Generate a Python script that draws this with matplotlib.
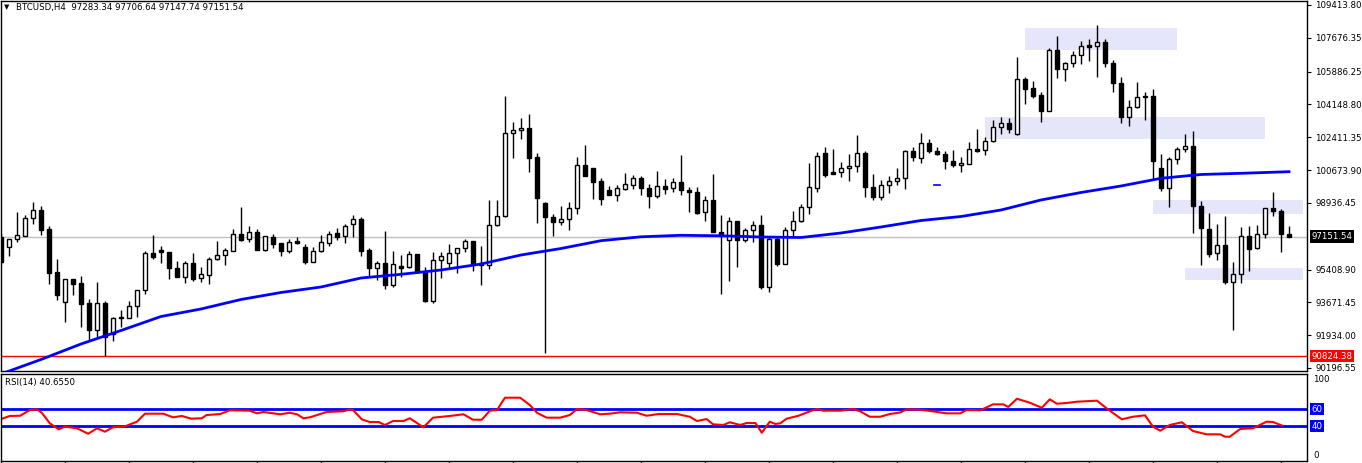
import numpy as np
import matplotlib
matplotlib.use("Agg")
import matplotlib.pyplot as plt
import matplotlib.transforms as mtransforms

# BTCUSD H4 candles, oldest first
opens = [97132, 96586, 97042, 97200, 98122, 98561, 97555, 95279, 93707, 94908,
         94696, 93638, 92224, 93638, 91997, 92850, 92828, 93463, 94310, 96285,
         96444, 96338, 95475, 95030, 95739, 94945, 95136, 95951, 96195, 96407,
         97275, 97010, 97381, 96459, 97116, 96814, 96407, 96920, 96602, 95808,
         96375, 96830, 97344, 97169, 97804, 98069, 96444, 95507, 95755, 94606,
         95596, 95559, 96232, 95279, 93760, 95898, 95771, 96269, 96534, 96904,
         95755, 95634, 97751, 98228, 102622, 102780, 102886, 101351, 98916, 98190,
         97910, 98069, 98651, 100928, 100769, 100081, 99604, 99371, 99657, 99869,
         100239, 99710, 99286, 99816, 99710, 100028, 99604, 99498, 98439, 99075,
         97381, 96957, 97963, 96957, 97486, 97751, 94469, 97042, 95718, 97486,
         97963, 98704, 99710, 101579, 100557, 100557, 100769, 100875, 101563, 99763,
         99265, 99869, 100081, 100239, 101669, 101298, 102092, 101669, 101510, 101139,
         100928, 100996, 101775, 101722, 102198, 102939, 103151, 102569, 105480, 105020,
         104649, 103818, 107016, 106042, 106327, 106751, 107280, 107227, 107439, 106327,
         105269, 103500, 103998, 104596, 104596, 100769, 99742, 101245, 101775, 101933,
         98757, 97539, 96269, 96692, 94765, 95157, 97169, 96565, 97275, 98651,
         98492, 97283.34]
highs = [97290, 97026, 98439, 98296, 98985, 98773, 97714, 95967, 94930, 94930,
         95051, 93865, 94749, 93728, 92912, 93267, 93760, 94310, 96391, 97254,
         96639, 96360, 95861, 95861, 96269, 95528, 96057, 96920, 96549, 97555,
         98736, 97714, 97555, 97200, 97290, 96830, 97010, 97148, 96761, 96602,
         97238, 97449, 97608, 97820, 98296, 98190, 96565, 95861, 97449, 96391,
         96195, 96391, 96250, 95528, 96338, 96338, 96761, 96550, 97026, 96920,
         96655, 99091, 99091, 104596, 103220, 103432, 103643, 101563, 98985, 98334,
         98773, 98985, 101351, 102002, 100790, 100239, 99816, 99869, 100520, 100414,
         100345, 99922, 100626, 100186, 100239, 101473, 99763, 99763, 99286, 100451,
         98281, 98175, 97980, 97624, 97963, 98281, 97200, 97148, 97677, 98524,
         98863, 101033, 101616, 101896, 101790, 101086, 101510, 102516, 101669, 100467,
         100133, 100361, 100769, 101722, 101880, 102622, 102304, 101912, 101669, 101722,
         101351, 102145, 102849, 102410, 103310, 103469, 103416, 106645, 105602, 105390,
         104792, 107122, 107757, 106396, 106979, 107508, 107614, 108355, 107598, 106486,
         105602, 104369, 105322, 104792, 104967, 101510, 101367, 101880, 102569, 102728,
         99022, 98386, 97820, 98228, 95792, 97645, 97698, 97751, 98670, 99498,
         98598, 97706.64]
lows = [95702, 96126, 96883, 97180, 97836, 97254, 94659, 93797, 92648, 94077,
        92383, 91663, 91854, 90824, 91642, 92351, 92828, 92912, 94130, 95951,
        95739, 94892, 94998, 94681, 94802, 94734, 94644, 95940, 95665, 96391,
        96936, 96883, 96440, 96375, 96565, 96142, 96301, 96761, 95718, 95790,
        96360, 96671, 96989, 96830, 97116, 96142, 95030, 94855, 94395, 94500,
        95030, 95475, 95242, 93691, 93622, 94977, 95475, 95242, 96338, 95348,
        94606, 95438, 97730, 98210, 101330, 102336, 100589, 97889, 91007, 97200,
        97783, 97518, 98365, 100360, 99128, 98842, 99339, 99054, 99640, 99657,
        99371, 98683, 99181, 99392, 99530, 99355, 98471, 98365, 97995, 97381,
        94098, 94818, 95559, 96851, 96851, 94379, 94236, 95612, 95700, 97200,
        97940, 98323, 99530, 100292, 100470, 100324, 100112, 100557, 99265, 99106,
        99106, 99445, 99869, 99657, 101139, 101033, 101563, 101457, 100748, 100822,
        100557, 100980, 101650, 101457, 102145, 102569, 102622, 102550, 104189, 104475,
        103236, 103800, 105565, 105406, 106116, 106306, 106465, 105618, 106116, 104824,
        103183, 103024, 103945, 103342, 100186, 99583, 98736, 100980, 101616, 97360,
        95665, 96089, 95930, 94659, 92224, 94712, 95348, 96512, 97095, 98228,
        96354, 97147.74]
closes = [95808, 97010, 97238, 98122, 98545, 97518, 95242, 94077, 94908, 94659,
          93601, 92224, 93638, 91854, 92859, 92870, 93463, 94310, 96285, 96089,
          96322, 95507, 95030, 95739, 94924, 95157, 95951, 96195, 96444, 97275,
          96973, 97381, 96459, 97185, 96777, 96407, 96851, 96814, 95808, 96375,
          96851, 97306, 97148, 97714, 98069, 96407, 95507, 95755, 94606, 95702,
          95491, 96248, 95279, 93760, 95898, 96110, 96269, 96534, 96904, 95718,
          95665, 97751, 98228, 102622, 102780, 102886, 101330, 99181, 98175, 97910,
          98069, 98651, 100928, 100377, 100059, 99159, 99371, 99710, 99922, 100239,
          99710, 99286, 99816, 99689, 100028, 99604, 99498, 98418, 99075, 97412,
          97254, 97963, 96957, 97486, 97751, 94501, 97042, 95718, 97486, 97963,
          98704, 99763, 101404, 100430, 100483, 100769, 100875, 101563, 99795, 99265,
          99869, 100081, 100239, 101669, 101351, 102092, 101669, 101510, 101139, 100928,
          101033, 101775, 101669, 102198, 102939, 103151, 102833, 105480, 104983, 104612,
          103818, 107016, 106042, 106327, 106751, 107227, 107190, 107439, 106359, 105300,
          103500, 103998, 104527, 104527, 101171, 99742, 101245, 101775, 101933, 98789,
          97624, 96248, 96692, 94765, 95157, 97169, 96512, 97275, 98651, 98492,
          97275, 97151.54]

# moving average (blue), read at every 5th bar
ma_idx = [0, 5, 10, 15, 20, 25, 30, 35, 40, 45, 50, 55, 60, 65, 70, 75, 80,
          85, 90, 95, 100, 105, 110, 115, 120, 125, 130, 135, 140, 145, 150, 155, 161]
ma_val = [89879, 90647, 91467, 92182, 92923, 93320, 93823, 94194, 94485, 94961,
          95157, 95385, 95702, 96179, 96523, 96936, 97142, 97222, 97195, 97132,
          97105, 97344, 97661, 98005, 98217, 98561, 99091, 99488, 99832, 100239,
          100441, 100504, 100589]

# RSI(14)
rsi_idx = [0, 1.1, 2.4, 3.6, 4.5, 5.1, 6.1, 7.2, 8.0, 9.5, 10.9, 12.0, 13.0, 14.0,
           15.5, 17.0, 18.0, 20.3, 21.5, 22.6, 23.8, 25.1, 25.7, 27.4, 28.6, 31.1,
           32.0, 32.8, 34.9, 36.1, 37.0, 37.8, 38.6, 40.7, 42.8, 43.6, 44.0, 45.1,
           46.1, 47.2, 48.0, 49.0, 50.3, 51.1, 52.8, 54.0, 56.1, 57.8, 59.0, 60.1,
           61.1, 62.0, 63.0, 64.9, 66.1, 67.0, 68.2, 69.9, 71.1, 72.0, 73.2, 74.9,
           76.1, 77.4, 79.5, 80.7, 82.2, 84.5, 86.1, 87.0, 88.2, 89.0, 90.3, 91.1,
           92.4, 93.2, 94.3, 95.1, 96.1, 96.8, 97.4, 98.2, 99.7, 101.1, 102.0, 102.8,
           104.9, 106.5, 107.4, 108.6, 109.9, 111.1, 112.4, 113.2, 114.7, 115.9,
           118.2, 119.9, 120.7, 122.4, 124.0, 125.3, 125.9, 127.0, 128.6, 130.1,
           131.1, 132.0, 133.2, 134.5, 137.0, 138.2, 140.1, 141.5, 143.0, 144.0,
           144.9, 146.1, 147.6, 149.0, 150.7, 152.4, 153.0, 153.6, 154.9, 156.5,
           158.2, 159.0, 160.1]
rsi_val = [48.2, 51.8, 52.1, 58.8, 59.6, 55.6, 43.2, 36.1, 39.2, 37.3, 30.9, 37.3,
           33.3, 38.5, 39.6, 45.1, 54.5, 54.5, 50.2, 51.8, 48.6, 49.1, 52.9, 54.1,
           58.5, 58.0, 54.9, 56.5, 53.8, 55.6, 53.8, 49.1, 50.2, 56.5, 57.3, 59.6,
           58.8, 47.9, 44.7, 44.7, 41.2, 45.9, 45.9, 49.1, 38.5, 49.8, 51.8, 53.8,
           47.4, 47.4, 58.0, 58.8, 73.3, 73.3, 64.7, 55.6, 49.8, 49.8, 52.9, 60.0,
           58.8, 53.8, 54.5, 56.1, 55.6, 52.1, 54.1, 54.1, 50.9, 45.9, 48.2, 42.0,
           41.2, 44.4, 41.2, 43.5, 43.5, 32.1, 45.1, 42.4, 43.2, 48.6, 52.1, 57.3,
           60.0, 58.0, 58.0, 60.0, 57.3, 50.9, 50.9, 54.1, 55.9, 59.6, 59.2, 58.0,
           54.9, 54.9, 58.8, 58.5, 65.5, 65.5, 62.4, 72.1, 67.4, 61.5, 71.4, 66.2,
           67.1, 68.6, 69.8, 60.8, 47.9, 50.9, 52.6, 39.2, 34.5, 41.2, 44.4, 34.1,
           30.2, 30.2, 27.4, 27.4, 36.5, 37.3, 45.1, 44.7, 40.66]

# shaded supply/demand zones
zone_x0 = [128, 123, 144, 148]
zone_x1 = [147, 158, 162.75, 162.75]
zone_lo = [107047, 102336, 98365, 94871]
zone_hi = [108212, 103485, 99091, 95491]

price_ticks = [109413.80, 107676.35, 105886.25, 104148.80, 102411.35, 100673.90,
               98936.45, 95408.90, 93671.45, 91934.00, 90196.55]
last_price = 97151.54
red_level = 90824.38
rsi_levels = [60, 40]

W, H = 1362, 463
fig = plt.figure(figsize=(W / 100, H / 100), dpi=100)
fig.patch.set_facecolor('white')

ax = fig.add_axes([0.5 / W, 1 - 370.5 / H, 1306.5 / W, 370 / H])
ax2 = fig.add_axes([0.5 / W, 1 - 460.5 / H, 1306.5 / W, 87 / H])

o = np.array(opens, float)
h = np.array(highs, float)
l = np.array(lows, float)
c = np.array(closes, float)
x = np.arange(len(o))
up = c >= o

for x0, x1, lo, hi in zip(zone_x0, zone_x1, zone_lo, zone_hi):
    ax.fill_between([x0, x1], lo, hi, color='#E6E6FA', lw=0, zorder=0)

ax.axhline(last_price, color='#C0C0C0', lw=1, zorder=1)
ax.axhline(red_level, color='#FF0000', lw=1, zorder=1)

ax.vlines(x, l, h, color='black', lw=1, zorder=2)
ax.bar(x, np.abs(c - o), bottom=np.minimum(o, c), width=0.5,
       color=np.where(up, 'white', 'black'), edgecolor='black', linewidth=1, zorder=3)

ax.plot(ma_idx, ma_val, color='#0000FF', lw=2, zorder=4)
ax.plot([116.6, 117.4], [99869, 99869], color='#0000FF', lw=1.2, zorder=4)

ax.set_xlim(-0.0625, 163.25)
ax.set_ylim(90064, 109652)
ax.set_xticks([])
ax.yaxis.tick_right()
ax.set_yticks(price_ticks)
ax.set_yticklabels(['%.2f' % t for t in price_ticks])
ax.tick_params(axis='y', length=3, width=0.8, pad=3, labelsize=6.2, colors='black')
for s in ax.spines.values():
    s.set_linewidth(1)
    s.set_color('black')

tr = mtransforms.blended_transform_factory(ax.transAxes, ax.transData)
ax.text(1 + 4.5 / 1306.5, last_price, '%.2f' % last_price, transform=tr, color='white',
        fontsize=6.2, va='center', ha='left',
        bbox=dict(boxstyle='square,pad=0.2', fc='black', ec='none'))
ax.text(1 + 4.5 / 1306.5, red_level, '%.2f' % red_level, transform=tr, color='white',
        fontsize=6.2, va='center', ha='left',
        bbox=dict(boxstyle='square,pad=0.2', fc='#FF0000', ec='none'))

# RSI panel
for lv in rsi_levels:
    ax2.axhline(lv, color='#0000FF', lw=2, zorder=1)
ax2.plot(rsi_idx, rsi_val, color='#FF0000', lw=1.5, zorder=2)
ax2.set_xlim(-0.0625, 163.25)
ax2.set_ylim(-0.6, 101.8)
ax2.set_yticks([])
ax2.set_xticks(np.arange(0, 162, 8))
ax2.set_xticklabels([])
ax2.tick_params(axis='x', length=3, width=0.8, direction='out')
for s in ax2.spines.values():
    s.set_linewidth(1)
    s.set_color('black')

tr2 = mtransforms.blended_transform_factory(ax2.transAxes, ax2.transData)
ax2.text(1 + 6 / 1306.5, 100, '100', transform=tr2, fontsize=6.2, va='top', ha='left')
ax2.text(1 + 6 / 1306.5, 0, '0', transform=tr2, fontsize=6.2, va='bottom', ha='left')
for lv in rsi_levels:
    ax2.text(1 + 4.5 / 1306.5, lv, str(lv), transform=tr2, color='white', fontsize=6.2,
             va='center', ha='left',
             bbox=dict(boxstyle='square,pad=0.15', fc='#0000FF', ec='none'))

fig.text(4 / W, 1 - 7.5 / H, '\u25bc', fontsize=5, va='center', ha='left')
fig.text(16 / W, 1 - 7.5 / H, 'BTCUSD,H4  97283.34 97706.64 97147.74 97151.54',
         fontsize=6.2, va='center', ha='left')
fig.text(5 / W, 1 - 383 / H, 'RSI(14) 40.6550', fontsize=6.2, va='center', ha='left')

fig.savefig('out.png', dpi=100, facecolor='white')
